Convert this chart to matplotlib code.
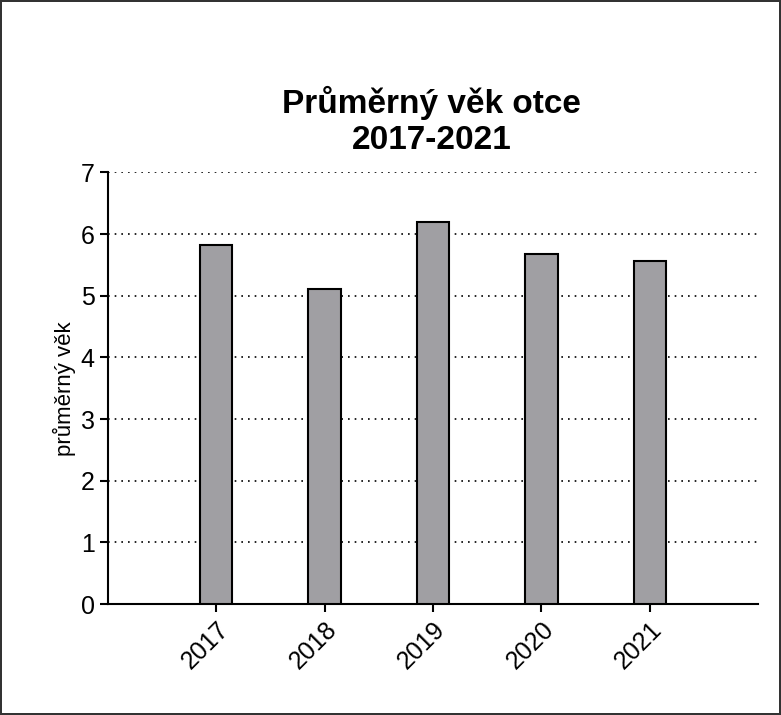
import matplotlib.pyplot as plt

plt.rcParams['font.family'] = ['Liberation Sans', 'DejaVu Sans']

years = ['2017', '2018', '2019', '2020', '2021']
avg_age = [5.82, 5.11, 6.20, 5.67, 5.57]

fig = plt.figure(figsize=(7.81, 7.15), dpi=100)
fig.patch.set_edgecolor('#333333')
fig.patch.set_linewidth(1.5)
ax = fig.add_axes([0.138, 0.155, 0.833, 0.604])

x = range(len(years))
ax.bar(x, avg_age, width=0.3, color='#a09fa3', edgecolor='black', linewidth=1.5, zorder=3)

ax.set_xlim(-1, 5)
ax.set_ylim(0, 7)
ax.set_yticks(range(0, 8))
ax.set_xticks(list(x))
ax.set_xticklabels(years, rotation=45, ha='right', rotation_mode='anchor')
ax.tick_params(axis='both', labelsize=18, width=1.5, length=6)
ax.yaxis.grid(True, linestyle=(0, (1, 3)), color='black', linewidth=1.2)
ax.set_axisbelow(True)
for s in ['top', 'right']:
    ax.spines[s].set_visible(False)
for s in ['left', 'bottom']:
    ax.spines[s].set_linewidth(1.5)

ax.set_ylabel('průměrný věk', fontsize=16, labelpad=3)
fig.text(0.553, 0.831, 'Průměrný věk otce\n2017-2021', ha='center', va='center',
         fontsize=24, fontweight='bold', linespacing=1.22)

plt.savefig('out.png', dpi=100)
